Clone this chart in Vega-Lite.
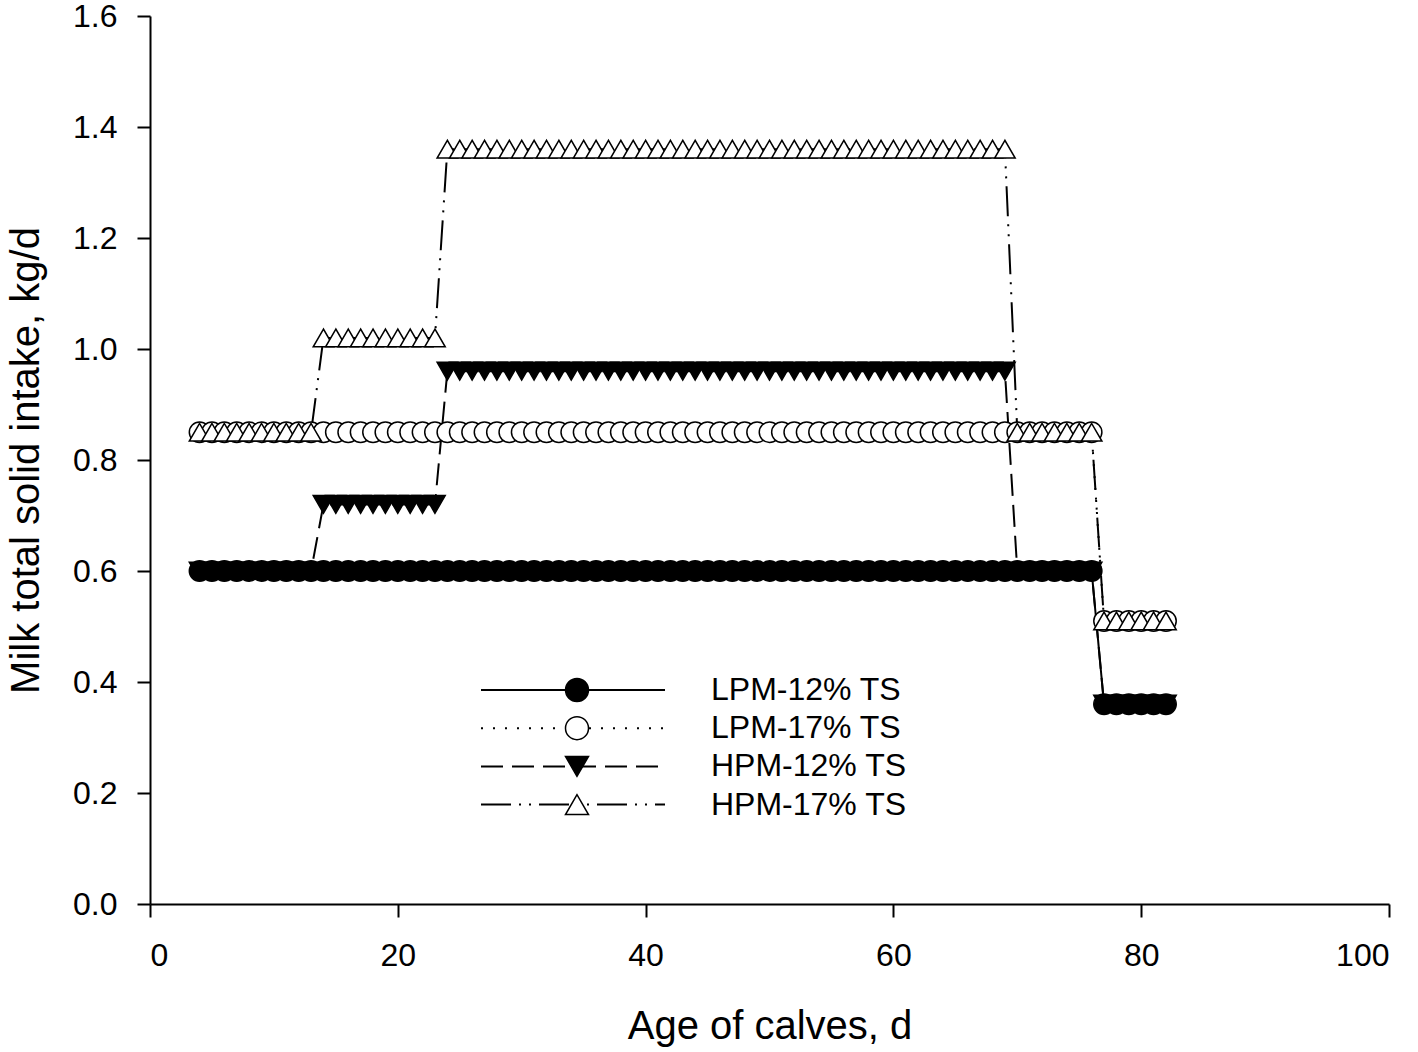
{
"$schema": "https://vega.github.io/schema/vega-lite/v6.json",
"width": 1239,
"height": 888,
"autosize": {"type": "none"},
"padding": {"left": 150, "top": 16, "right": 29, "bottom": 148},
"background": "white",
"config": {
  "view": {"stroke": null},
  "font": "Liberation Sans",
  "axis": {"grid": false, "domainColor": "black", "domainWidth": 2, "tickColor": "black", "tickWidth": 2, "tickSize": 13,
    "labelFont": "Liberation Sans", "labelFontSize": 32, "labelColor": "black", "titleFont": "Liberation Sans", "titleFontSize": 40, "titleFontWeight": "normal", "titleColor": "black"}
},
"data": {"values": [
{"series":"LPM-12% TS","day":4,"intake":0.6},{"series":"LPM-12% TS","day":5,"intake":0.6},{"series":"LPM-12% TS","day":6,"intake":0.6},{"series":"LPM-12% TS","day":7,"intake":0.6},{"series":"LPM-12% TS","day":8,"intake":0.6},{"series":"LPM-12% TS","day":9,"intake":0.6},{"series":"LPM-12% TS","day":10,"intake":0.6},{"series":"LPM-12% TS","day":11,"intake":0.6},{"series":"LPM-12% TS","day":12,"intake":0.6},{"series":"LPM-12% TS","day":13,"intake":0.6},
{"series":"LPM-12% TS","day":14,"intake":0.6},{"series":"LPM-12% TS","day":15,"intake":0.6},{"series":"LPM-12% TS","day":16,"intake":0.6},{"series":"LPM-12% TS","day":17,"intake":0.6},{"series":"LPM-12% TS","day":18,"intake":0.6},{"series":"LPM-12% TS","day":19,"intake":0.6},{"series":"LPM-12% TS","day":20,"intake":0.6},{"series":"LPM-12% TS","day":21,"intake":0.6},{"series":"LPM-12% TS","day":22,"intake":0.6},{"series":"LPM-12% TS","day":23,"intake":0.6},
{"series":"LPM-12% TS","day":24,"intake":0.6},{"series":"LPM-12% TS","day":25,"intake":0.6},{"series":"LPM-12% TS","day":26,"intake":0.6},{"series":"LPM-12% TS","day":27,"intake":0.6},{"series":"LPM-12% TS","day":28,"intake":0.6},{"series":"LPM-12% TS","day":29,"intake":0.6},{"series":"LPM-12% TS","day":30,"intake":0.6},{"series":"LPM-12% TS","day":31,"intake":0.6},{"series":"LPM-12% TS","day":32,"intake":0.6},{"series":"LPM-12% TS","day":33,"intake":0.6},
{"series":"LPM-12% TS","day":34,"intake":0.6},{"series":"LPM-12% TS","day":35,"intake":0.6},{"series":"LPM-12% TS","day":36,"intake":0.6},{"series":"LPM-12% TS","day":37,"intake":0.6},{"series":"LPM-12% TS","day":38,"intake":0.6},{"series":"LPM-12% TS","day":39,"intake":0.6},{"series":"LPM-12% TS","day":40,"intake":0.6},{"series":"LPM-12% TS","day":41,"intake":0.6},{"series":"LPM-12% TS","day":42,"intake":0.6},{"series":"LPM-12% TS","day":43,"intake":0.6},
{"series":"LPM-12% TS","day":44,"intake":0.6},{"series":"LPM-12% TS","day":45,"intake":0.6},{"series":"LPM-12% TS","day":46,"intake":0.6},{"series":"LPM-12% TS","day":47,"intake":0.6},{"series":"LPM-12% TS","day":48,"intake":0.6},{"series":"LPM-12% TS","day":49,"intake":0.6},{"series":"LPM-12% TS","day":50,"intake":0.6},{"series":"LPM-12% TS","day":51,"intake":0.6},{"series":"LPM-12% TS","day":52,"intake":0.6},{"series":"LPM-12% TS","day":53,"intake":0.6},
{"series":"LPM-12% TS","day":54,"intake":0.6},{"series":"LPM-12% TS","day":55,"intake":0.6},{"series":"LPM-12% TS","day":56,"intake":0.6},{"series":"LPM-12% TS","day":57,"intake":0.6},{"series":"LPM-12% TS","day":58,"intake":0.6},{"series":"LPM-12% TS","day":59,"intake":0.6},{"series":"LPM-12% TS","day":60,"intake":0.6},{"series":"LPM-12% TS","day":61,"intake":0.6},{"series":"LPM-12% TS","day":62,"intake":0.6},{"series":"LPM-12% TS","day":63,"intake":0.6},
{"series":"LPM-12% TS","day":64,"intake":0.6},{"series":"LPM-12% TS","day":65,"intake":0.6},{"series":"LPM-12% TS","day":66,"intake":0.6},{"series":"LPM-12% TS","day":67,"intake":0.6},{"series":"LPM-12% TS","day":68,"intake":0.6},{"series":"LPM-12% TS","day":69,"intake":0.6},{"series":"LPM-12% TS","day":70,"intake":0.6},{"series":"LPM-12% TS","day":71,"intake":0.6},{"series":"LPM-12% TS","day":72,"intake":0.6},{"series":"LPM-12% TS","day":73,"intake":0.6},
{"series":"LPM-12% TS","day":74,"intake":0.6},{"series":"LPM-12% TS","day":75,"intake":0.6},{"series":"LPM-12% TS","day":76,"intake":0.6},{"series":"LPM-12% TS","day":77,"intake":0.36},{"series":"LPM-12% TS","day":78,"intake":0.36},{"series":"LPM-12% TS","day":79,"intake":0.36},{"series":"LPM-12% TS","day":80,"intake":0.36},{"series":"LPM-12% TS","day":81,"intake":0.36},{"series":"LPM-12% TS","day":82,"intake":0.36},
{"series":"LPM-17% TS","day":4,"intake":0.85},{"series":"LPM-17% TS","day":5,"intake":0.85},{"series":"LPM-17% TS","day":6,"intake":0.85},{"series":"LPM-17% TS","day":7,"intake":0.85},{"series":"LPM-17% TS","day":8,"intake":0.85},{"series":"LPM-17% TS","day":9,"intake":0.85},{"series":"LPM-17% TS","day":10,"intake":0.85},{"series":"LPM-17% TS","day":11,"intake":0.85},{"series":"LPM-17% TS","day":12,"intake":0.85},{"series":"LPM-17% TS","day":13,"intake":0.85},
{"series":"LPM-17% TS","day":14,"intake":0.85},{"series":"LPM-17% TS","day":15,"intake":0.85},{"series":"LPM-17% TS","day":16,"intake":0.85},{"series":"LPM-17% TS","day":17,"intake":0.85},{"series":"LPM-17% TS","day":18,"intake":0.85},{"series":"LPM-17% TS","day":19,"intake":0.85},{"series":"LPM-17% TS","day":20,"intake":0.85},{"series":"LPM-17% TS","day":21,"intake":0.85},{"series":"LPM-17% TS","day":22,"intake":0.85},{"series":"LPM-17% TS","day":23,"intake":0.85},
{"series":"LPM-17% TS","day":24,"intake":0.85},{"series":"LPM-17% TS","day":25,"intake":0.85},{"series":"LPM-17% TS","day":26,"intake":0.85},{"series":"LPM-17% TS","day":27,"intake":0.85},{"series":"LPM-17% TS","day":28,"intake":0.85},{"series":"LPM-17% TS","day":29,"intake":0.85},{"series":"LPM-17% TS","day":30,"intake":0.85},{"series":"LPM-17% TS","day":31,"intake":0.85},{"series":"LPM-17% TS","day":32,"intake":0.85},{"series":"LPM-17% TS","day":33,"intake":0.85},
{"series":"LPM-17% TS","day":34,"intake":0.85},{"series":"LPM-17% TS","day":35,"intake":0.85},{"series":"LPM-17% TS","day":36,"intake":0.85},{"series":"LPM-17% TS","day":37,"intake":0.85},{"series":"LPM-17% TS","day":38,"intake":0.85},{"series":"LPM-17% TS","day":39,"intake":0.85},{"series":"LPM-17% TS","day":40,"intake":0.85},{"series":"LPM-17% TS","day":41,"intake":0.85},{"series":"LPM-17% TS","day":42,"intake":0.85},{"series":"LPM-17% TS","day":43,"intake":0.85},
{"series":"LPM-17% TS","day":44,"intake":0.85},{"series":"LPM-17% TS","day":45,"intake":0.85},{"series":"LPM-17% TS","day":46,"intake":0.85},{"series":"LPM-17% TS","day":47,"intake":0.85},{"series":"LPM-17% TS","day":48,"intake":0.85},{"series":"LPM-17% TS","day":49,"intake":0.85},{"series":"LPM-17% TS","day":50,"intake":0.85},{"series":"LPM-17% TS","day":51,"intake":0.85},{"series":"LPM-17% TS","day":52,"intake":0.85},{"series":"LPM-17% TS","day":53,"intake":0.85},
{"series":"LPM-17% TS","day":54,"intake":0.85},{"series":"LPM-17% TS","day":55,"intake":0.85},{"series":"LPM-17% TS","day":56,"intake":0.85},{"series":"LPM-17% TS","day":57,"intake":0.85},{"series":"LPM-17% TS","day":58,"intake":0.85},{"series":"LPM-17% TS","day":59,"intake":0.85},{"series":"LPM-17% TS","day":60,"intake":0.85},{"series":"LPM-17% TS","day":61,"intake":0.85},{"series":"LPM-17% TS","day":62,"intake":0.85},{"series":"LPM-17% TS","day":63,"intake":0.85},
{"series":"LPM-17% TS","day":64,"intake":0.85},{"series":"LPM-17% TS","day":65,"intake":0.85},{"series":"LPM-17% TS","day":66,"intake":0.85},{"series":"LPM-17% TS","day":67,"intake":0.85},{"series":"LPM-17% TS","day":68,"intake":0.85},{"series":"LPM-17% TS","day":69,"intake":0.85},{"series":"LPM-17% TS","day":70,"intake":0.85},{"series":"LPM-17% TS","day":71,"intake":0.85},{"series":"LPM-17% TS","day":72,"intake":0.85},{"series":"LPM-17% TS","day":73,"intake":0.85},
{"series":"LPM-17% TS","day":74,"intake":0.85},{"series":"LPM-17% TS","day":75,"intake":0.85},{"series":"LPM-17% TS","day":76,"intake":0.85},{"series":"LPM-17% TS","day":77,"intake":0.51},{"series":"LPM-17% TS","day":78,"intake":0.51},{"series":"LPM-17% TS","day":79,"intake":0.51},{"series":"LPM-17% TS","day":80,"intake":0.51},{"series":"LPM-17% TS","day":81,"intake":0.51},{"series":"LPM-17% TS","day":82,"intake":0.51},
{"series":"HPM-12% TS","day":4,"intake":0.6},{"series":"HPM-12% TS","day":5,"intake":0.6},{"series":"HPM-12% TS","day":6,"intake":0.6},{"series":"HPM-12% TS","day":7,"intake":0.6},{"series":"HPM-12% TS","day":8,"intake":0.6},{"series":"HPM-12% TS","day":9,"intake":0.6},{"series":"HPM-12% TS","day":10,"intake":0.6},{"series":"HPM-12% TS","day":11,"intake":0.6},{"series":"HPM-12% TS","day":12,"intake":0.6},{"series":"HPM-12% TS","day":13,"intake":0.6},
{"series":"HPM-12% TS","day":14,"intake":0.72},{"series":"HPM-12% TS","day":15,"intake":0.72},{"series":"HPM-12% TS","day":16,"intake":0.72},{"series":"HPM-12% TS","day":17,"intake":0.72},{"series":"HPM-12% TS","day":18,"intake":0.72},{"series":"HPM-12% TS","day":19,"intake":0.72},{"series":"HPM-12% TS","day":20,"intake":0.72},{"series":"HPM-12% TS","day":21,"intake":0.72},{"series":"HPM-12% TS","day":22,"intake":0.72},{"series":"HPM-12% TS","day":23,"intake":0.72},
{"series":"HPM-12% TS","day":24,"intake":0.96},{"series":"HPM-12% TS","day":25,"intake":0.96},{"series":"HPM-12% TS","day":26,"intake":0.96},{"series":"HPM-12% TS","day":27,"intake":0.96},{"series":"HPM-12% TS","day":28,"intake":0.96},{"series":"HPM-12% TS","day":29,"intake":0.96},{"series":"HPM-12% TS","day":30,"intake":0.96},{"series":"HPM-12% TS","day":31,"intake":0.96},{"series":"HPM-12% TS","day":32,"intake":0.96},{"series":"HPM-12% TS","day":33,"intake":0.96},
{"series":"HPM-12% TS","day":34,"intake":0.96},{"series":"HPM-12% TS","day":35,"intake":0.96},{"series":"HPM-12% TS","day":36,"intake":0.96},{"series":"HPM-12% TS","day":37,"intake":0.96},{"series":"HPM-12% TS","day":38,"intake":0.96},{"series":"HPM-12% TS","day":39,"intake":0.96},{"series":"HPM-12% TS","day":40,"intake":0.96},{"series":"HPM-12% TS","day":41,"intake":0.96},{"series":"HPM-12% TS","day":42,"intake":0.96},{"series":"HPM-12% TS","day":43,"intake":0.96},
{"series":"HPM-12% TS","day":44,"intake":0.96},{"series":"HPM-12% TS","day":45,"intake":0.96},{"series":"HPM-12% TS","day":46,"intake":0.96},{"series":"HPM-12% TS","day":47,"intake":0.96},{"series":"HPM-12% TS","day":48,"intake":0.96},{"series":"HPM-12% TS","day":49,"intake":0.96},{"series":"HPM-12% TS","day":50,"intake":0.96},{"series":"HPM-12% TS","day":51,"intake":0.96},{"series":"HPM-12% TS","day":52,"intake":0.96},{"series":"HPM-12% TS","day":53,"intake":0.96},
{"series":"HPM-12% TS","day":54,"intake":0.96},{"series":"HPM-12% TS","day":55,"intake":0.96},{"series":"HPM-12% TS","day":56,"intake":0.96},{"series":"HPM-12% TS","day":57,"intake":0.96},{"series":"HPM-12% TS","day":58,"intake":0.96},{"series":"HPM-12% TS","day":59,"intake":0.96},{"series":"HPM-12% TS","day":60,"intake":0.96},{"series":"HPM-12% TS","day":61,"intake":0.96},{"series":"HPM-12% TS","day":62,"intake":0.96},{"series":"HPM-12% TS","day":63,"intake":0.96},
{"series":"HPM-12% TS","day":64,"intake":0.96},{"series":"HPM-12% TS","day":65,"intake":0.96},{"series":"HPM-12% TS","day":66,"intake":0.96},{"series":"HPM-12% TS","day":67,"intake":0.96},{"series":"HPM-12% TS","day":68,"intake":0.96},{"series":"HPM-12% TS","day":69,"intake":0.96},{"series":"HPM-12% TS","day":70,"intake":0.6},{"series":"HPM-12% TS","day":71,"intake":0.6},{"series":"HPM-12% TS","day":72,"intake":0.6},{"series":"HPM-12% TS","day":73,"intake":0.6},
{"series":"HPM-12% TS","day":74,"intake":0.6},{"series":"HPM-12% TS","day":75,"intake":0.6},{"series":"HPM-12% TS","day":76,"intake":0.6},{"series":"HPM-12% TS","day":77,"intake":0.36},{"series":"HPM-12% TS","day":78,"intake":0.36},{"series":"HPM-12% TS","day":79,"intake":0.36},{"series":"HPM-12% TS","day":80,"intake":0.36},{"series":"HPM-12% TS","day":81,"intake":0.36},{"series":"HPM-12% TS","day":82,"intake":0.36},
{"series":"HPM-17% TS","day":4,"intake":0.85},{"series":"HPM-17% TS","day":5,"intake":0.85},{"series":"HPM-17% TS","day":6,"intake":0.85},{"series":"HPM-17% TS","day":7,"intake":0.85},{"series":"HPM-17% TS","day":8,"intake":0.85},{"series":"HPM-17% TS","day":9,"intake":0.85},{"series":"HPM-17% TS","day":10,"intake":0.85},{"series":"HPM-17% TS","day":11,"intake":0.85},{"series":"HPM-17% TS","day":12,"intake":0.85},{"series":"HPM-17% TS","day":13,"intake":0.85},
{"series":"HPM-17% TS","day":14,"intake":1.02},{"series":"HPM-17% TS","day":15,"intake":1.02},{"series":"HPM-17% TS","day":16,"intake":1.02},{"series":"HPM-17% TS","day":17,"intake":1.02},{"series":"HPM-17% TS","day":18,"intake":1.02},{"series":"HPM-17% TS","day":19,"intake":1.02},{"series":"HPM-17% TS","day":20,"intake":1.02},{"series":"HPM-17% TS","day":21,"intake":1.02},{"series":"HPM-17% TS","day":22,"intake":1.02},{"series":"HPM-17% TS","day":23,"intake":1.02},
{"series":"HPM-17% TS","day":24,"intake":1.36},{"series":"HPM-17% TS","day":25,"intake":1.36},{"series":"HPM-17% TS","day":26,"intake":1.36},{"series":"HPM-17% TS","day":27,"intake":1.36},{"series":"HPM-17% TS","day":28,"intake":1.36},{"series":"HPM-17% TS","day":29,"intake":1.36},{"series":"HPM-17% TS","day":30,"intake":1.36},{"series":"HPM-17% TS","day":31,"intake":1.36},{"series":"HPM-17% TS","day":32,"intake":1.36},{"series":"HPM-17% TS","day":33,"intake":1.36},
{"series":"HPM-17% TS","day":34,"intake":1.36},{"series":"HPM-17% TS","day":35,"intake":1.36},{"series":"HPM-17% TS","day":36,"intake":1.36},{"series":"HPM-17% TS","day":37,"intake":1.36},{"series":"HPM-17% TS","day":38,"intake":1.36},{"series":"HPM-17% TS","day":39,"intake":1.36},{"series":"HPM-17% TS","day":40,"intake":1.36},{"series":"HPM-17% TS","day":41,"intake":1.36},{"series":"HPM-17% TS","day":42,"intake":1.36},{"series":"HPM-17% TS","day":43,"intake":1.36},
{"series":"HPM-17% TS","day":44,"intake":1.36},{"series":"HPM-17% TS","day":45,"intake":1.36},{"series":"HPM-17% TS","day":46,"intake":1.36},{"series":"HPM-17% TS","day":47,"intake":1.36},{"series":"HPM-17% TS","day":48,"intake":1.36},{"series":"HPM-17% TS","day":49,"intake":1.36},{"series":"HPM-17% TS","day":50,"intake":1.36},{"series":"HPM-17% TS","day":51,"intake":1.36},{"series":"HPM-17% TS","day":52,"intake":1.36},{"series":"HPM-17% TS","day":53,"intake":1.36},
{"series":"HPM-17% TS","day":54,"intake":1.36},{"series":"HPM-17% TS","day":55,"intake":1.36},{"series":"HPM-17% TS","day":56,"intake":1.36},{"series":"HPM-17% TS","day":57,"intake":1.36},{"series":"HPM-17% TS","day":58,"intake":1.36},{"series":"HPM-17% TS","day":59,"intake":1.36},{"series":"HPM-17% TS","day":60,"intake":1.36},{"series":"HPM-17% TS","day":61,"intake":1.36},{"series":"HPM-17% TS","day":62,"intake":1.36},{"series":"HPM-17% TS","day":63,"intake":1.36},
{"series":"HPM-17% TS","day":64,"intake":1.36},{"series":"HPM-17% TS","day":65,"intake":1.36},{"series":"HPM-17% TS","day":66,"intake":1.36},{"series":"HPM-17% TS","day":67,"intake":1.36},{"series":"HPM-17% TS","day":68,"intake":1.36},{"series":"HPM-17% TS","day":69,"intake":1.36},{"series":"HPM-17% TS","day":70,"intake":0.85},{"series":"HPM-17% TS","day":71,"intake":0.85},{"series":"HPM-17% TS","day":72,"intake":0.85},{"series":"HPM-17% TS","day":73,"intake":0.85},
{"series":"HPM-17% TS","day":74,"intake":0.85},{"series":"HPM-17% TS","day":75,"intake":0.85},{"series":"HPM-17% TS","day":76,"intake":0.85},{"series":"HPM-17% TS","day":77,"intake":0.51},{"series":"HPM-17% TS","day":78,"intake":0.51},{"series":"HPM-17% TS","day":79,"intake":0.51},{"series":"HPM-17% TS","day":80,"intake":0.51},{"series":"HPM-17% TS","day":81,"intake":0.51},{"series":"HPM-17% TS","day":82,"intake":0.51}
]},
"encoding": {
  "x": {"field": "day", "type": "quantitative", "scale": {"domain": [0, 100], "nice": false},
    "axis": {"values": [0, 20, 40, 60, 80, 100], "title": "Age of calves, d", "labelPadding": 23, "titleX": 619.5, "titleY": 134, "titleBaseline": "alphabetic"}},
  "y": {"field": "intake", "type": "quantitative", "scale": {"domain": [0, 1.6], "nice": false},
    "axis": {"values": [0, 0.2, 0.4, 0.6, 0.8, 1.0, 1.2, 1.4, 1.6], "format": ".1f", "title": "Milk total solid intake, kg/d", "labelPadding": 20, "titleX": -112, "titleY": 444, "titleBaseline": "alphabetic", "titleAngle": -90}}
},
"layer": [
  {
    "mark": {"type": "line", "color": "black", "strokeWidth": 2},
    "encoding": {
      "strokeDash": {"field": "series", "type": "nominal",
        "sort": ["LPM-12% TS", "LPM-17% TS", "HPM-12% TS", "HPM-17% TS"],
        "scale": {"range": [[1, 0], [2, 10], [22, 9], [30, 8, 2, 8, 2, 8]]},
        "legend": {"orient": "none", "legendX": 330, "legendY": 658.5, "title": null, "padding": 0, "clipHeight": 31,
          "symbolType": "stroke", "symbolSize": 33856, "symbolStrokeWidth": 2, "symbolStrokeColor": "black",
          "labelExpr": "''", "labelFontSize": 32, "labelFont": "Liberation Sans", "labelLimit": 0, "rowPadding": 5.2}}
    }
  },
  {
    "mark": {"type": "point", "size": 420, "strokeWidth": 1.5, "opacity": 1},
    "encoding": {
      "shape": {"field": "series", "type": "nominal",
        "scale": {"domain": ["LPM-12% TS", "LPM-17% TS", "HPM-12% TS", "HPM-17% TS"], "range": ["circle", "circle", "triangle-down", "triangle-up"]},
        "legend": {"orient": "none", "legendX": 411, "legendY": 658.5, "title": null, "padding": 0, "clipHeight": 31,
          "symbolSize": 529, "symbolStrokeWidth": 1.5,
          "labelFontSize": 32, "labelFont": "Liberation Sans", "labelColor": "black", "labelLimit": 0, "labelOffset": 118, "rowPadding": 5.2}},
      "fill": {"field": "series", "type": "nominal",
        "scale": {"domain": ["LPM-12% TS", "LPM-17% TS", "HPM-12% TS", "HPM-17% TS"], "range": ["black", "white", "black", "white"]},
        "legend": {"orient": "none", "legendX": 411, "legendY": 658.5, "title": null, "padding": 0, "clipHeight": 31,
          "symbolSize": 529, "symbolStrokeWidth": 1.5,
          "labelFontSize": 32, "labelFont": "Liberation Sans", "labelColor": "black", "labelLimit": 0, "labelOffset": 118, "rowPadding": 5.2}},
      "stroke": {"field": "series", "type": "nominal",
        "scale": {"domain": ["LPM-12% TS", "LPM-17% TS", "HPM-12% TS", "HPM-17% TS"], "range": ["black", "black", "black", "black"]},
        "legend": {"orient": "none", "legendX": 411, "legendY": 658.5, "title": null, "padding": 0, "clipHeight": 31,
          "symbolSize": 529, "symbolStrokeWidth": 1.5,
          "labelFontSize": 32, "labelFont": "Liberation Sans", "labelColor": "black", "labelLimit": 0, "labelOffset": 118, "rowPadding": 5.2}}
    }
  }
]
}
